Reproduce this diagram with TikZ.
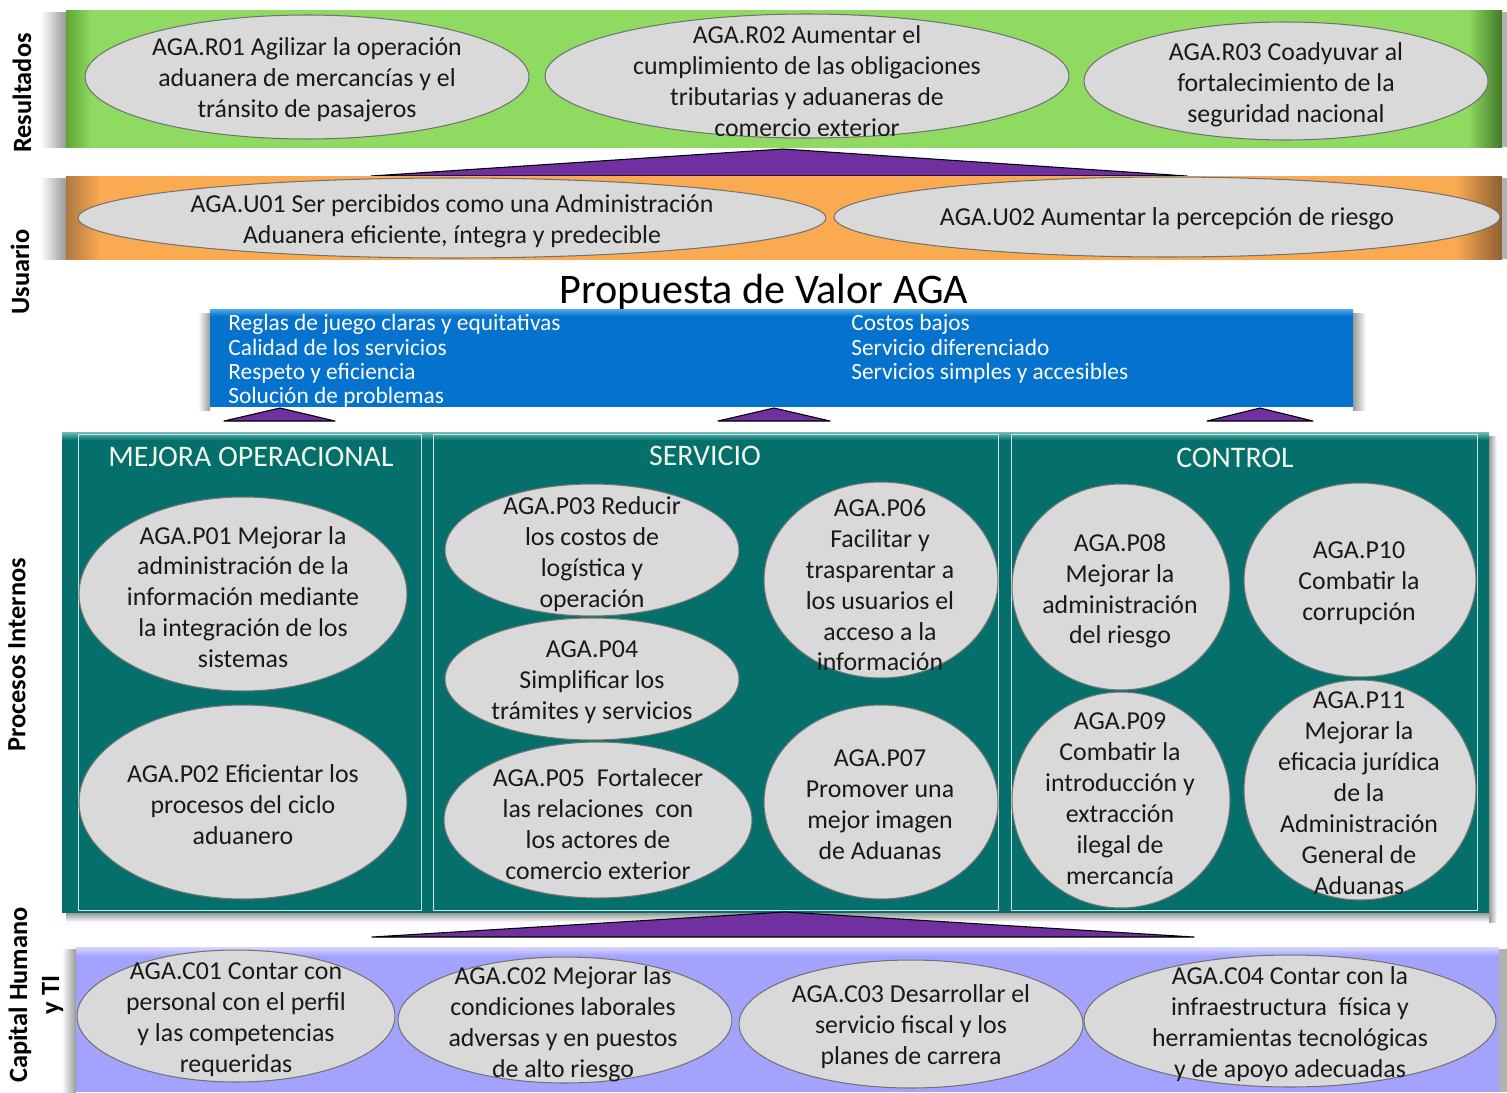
\documentclass[tikz,border=0pt]{standalone}
\usepackage{fontspec}
\setmainfont{Carlito}
\usepackage{tikz}
\usetikzlibrary{shapes.geometric}

\definecolor{resgreen}{RGB}{143,219,98}
\definecolor{resleft}{RGB}{95,165,55}
\definecolor{resright}{RGB}{65,120,40}
\definecolor{usorange}{RGB}{250,170,80}
\definecolor{usleft}{RGB}{175,120,65}
\definecolor{usright}{RGB}{140,95,50}
\definecolor{valblue}{RGB}{5,115,205}
\definecolor{valtop}{RGB}{80,170,240}
\definecolor{procteal}{RGB}{5,111,107}
\definecolor{proctop}{RGB}{110,190,185}
\definecolor{caplav}{RGB}{163,163,253}
\definecolor{captop}{RGB}{215,215,255}
\definecolor{ellgray}{RGB}{217,217,217}
\definecolor{ellline}{RGB}{115,115,115}
\definecolor{arrpurple}{RGB}{112,48,160}
\definecolor{headtxt}{RGB}{240,246,232}

\pgfdeclarehorizontalshading{resshade}{100bp}{color(0bp)=(resleft); color(25bp)=(resleft); color(25.9bp)=(resgreen); color(73.8bp)=(resgreen); color(75bp)=(resright); color(100bp)=(resright)}
\pgfdeclarehorizontalshading{usshade}{100bp}{color(0bp)=(usleft); color(25bp)=(usleft); color(26.2bp)=(usorange); color(73.4bp)=(usorange); color(75bp)=(usright); color(100bp)=(usright)}

\begin{document}
\begin{tikzpicture}[x=0.02cm,y=-0.02cm]
	
	\tikzset{goal/.style = {shape=ellipse,draw=ellline,line width=0.6pt,fill=ellgray,inner sep=0pt}}
	\tikzset{goaltext/.style = {align=center,inner sep=0pt,yshift=-1.7pt,text=black!90,font=\fontsize{14.7}{17.6}\selectfont}}
	\tikzset{sidelabel/.style = {rotate=90,align=center,font=\fontsize{15}{18.2}\selectfont\bfseries}}
	\tikzset{heading/.style = {text=headtxt,font=\fontsize{17}{20}\selectfont}}
	\tikzset{valtext/.style = {text=white,align=left,anchor=north west,inner sep=0pt,font=\fontsize{13.3}{13.9}\selectfont}}
	\tikzset{arrowtri/.style = {fill=arrpurple,draw=black,line width=0.6pt,line join=round}}
	\tikzset{panel/.style = {draw=white!80!procteal,line width=0.5pt}}
	\tikzset{shadowl/.style = {left color=white,right color=black!40}}
	\tikzset{shadowr/.style = {left color=black!40,right color=white}}
	
	\useasboundingbox (0,0) rectangle (1507,1092);
	
	% Resultados
	\shade[shadowl] (40,12) rectangle (66,147);
	\shade[shading=resshade] (66,10) rectangle (1502,147);
	\fill[black!30] (1502,12) rectangle (1507,147);
	\node[goal,minimum width=8.88cm,minimum height=2.48cm] (r1) at (307,77) {};
	\node[goal,minimum width=10.48cm,minimum height=2.48cm] (r2) at (807,76) {};
	\node[goal,minimum width=8.08cm,minimum height=2.36cm] (r3) at (1286,81) {};
	\node[goaltext] (r1t) at (307,77) {AGA.R01 Agilizar la operación\\aduanera de mercancías y el\\tránsito de pasajeros};
	\node[goaltext] (r2t) at (807,78) {AGA.R02 Aumentar el\\cumplimiento de las obligaciones\\tributarias y aduaneras de\\comercio exterior};
	\node[goaltext] (r3t) at (1286,82) {AGA.R03 Coadyuvar al\\fortalecimiento de la\\seguridad nacional};
	
	\draw[arrowtri] (371,176) -- (783,149) -- (1187,176) -- cycle;
	
	% Usuario
	\shade[shadowl] (40,178) rectangle (66,259);
	\shade[shading=usshade] (66,176) rectangle (1502,259);
	\fill[black!30] (1502,178) rectangle (1507,259);
	\node[goal,minimum width=14.96cm,minimum height=1.6cm] (u1) at (452,218) {};
	\node[goal,minimum width=13.32cm,minimum height=1.6cm] (u2) at (1167,217) {};
	\node[goaltext] (u1t) at (452,218) {AGA.U01 Ser percibidos como una Administración\\Aduanera eficiente, íntegra y predecible};
	\node[goaltext] (u2t) at (1167,216) {AGA.U02 Aumentar la percepción de riesgo};
	
	% Propuesta de valor
	\node[inner sep=0pt,font=\fontsize{24}{28}\selectfont] (prop) at (764,292) {Propuesta de Valor AGA};
	\shade[shadowl] (198,313) rectangle (210,410);
	\shade[shadowr] (1353,313) rectangle (1366,410);
	\fill[valblue] (210,309) rectangle (1353,407);
	\shade[top color=valtop,bottom color=valblue] (210,309) rectangle (1353,316);
	\node[valtext] (v1) at (228,314) {Reglas de juego claras y equitativas\\Calidad de los servicios\\Respeto y eficiencia\\Solución de problemas};
	\node[valtext] (v2) at (851,314) {Costos bajos\\Servicio diferenciado\\Servicios simples y accesibles};
	
	\draw[arrowtri] (224,421) -- (280,408) -- (335,421) -- cycle;
	\draw[arrowtri] (718,421) -- (774,408) -- (830,421) -- cycle;
	\draw[arrowtri] (1207,421) -- (1260,408) -- (1313,421) -- cycle;
	
	% Procesos internos
	\shade[top color=black!40,bottom color=white] (66,913) rectangle (1489,922);
	\shade[shadowr] (1489,436) rectangle (1497,922);
	\fill[procteal] (62,432) rectangle (1489,913);
	\shade[top color=proctop,bottom color=procteal] (62,432) rectangle (1489,440);
	\draw[panel] (78,434) rectangle (421,910);
	\draw[panel] (433,434) rectangle (998,910);
	\draw[panel] (1011,434) rectangle (1477,910);
	\node[heading] (h1) at (251,457) {MEJORA OPERACIONAL};
	\node[heading] (h2) at (705,456) {SERVICIO};
	\node[heading] (h3) at (1235,458) {CONTROL};
	
	\node[goal,minimum width=6.56cm,minimum height=3.88cm] (p1) at (243,594) {};
	\node[goal,minimum width=6.56cm,minimum height=3.88cm] (p2) at (243,802) {};
	\node[goal,minimum width=5.88cm,minimum height=2.64cm] (p3) at (592,550) {};
	\node[goal,minimum width=5.88cm,minimum height=2.44cm] (p4) at (592,679) {};
	\node[goal,minimum width=6.16cm,minimum height=3.12cm] (p5) at (598,820) {};
	\node[goal,minimum width=4.68cm,minimum height=3.92cm] (p6) at (881,580) {};
	\node[goal,minimum width=4.68cm,minimum height=3.88cm] (p7) at (881,802) {};
	\node[goal,minimum width=4.36cm,minimum height=4.12cm] (p8) at (1121,587) {};
	\node[goal,minimum width=4.36cm,minimum height=4.32cm] (p9) at (1121,800) {};
	\node[goal,minimum width=4.64cm,minimum height=3.88cm] (p10) at (1360,580) {};
	\node[goal,minimum width=4.64cm,minimum height=4.40cm] (p11) at (1360,790) {};
	
	\node[goaltext] (p1t) at (243,594) {AGA.P01 Mejorar la\\administración de la\\información mediante\\la integración de los\\sistemas};
	\node[goaltext] (p2t) at (243,802) {AGA.P02 Eficientar los\\procesos del ciclo\\aduanero};
	\node[goaltext] (p3t) at (592,551) {AGA.P03 Reducir\\los costos de\\logística y\\operación};
	\node[goaltext] (p4t) at (592,679) {AGA.P04\\Simplificar los\\trámites y servicios};
	\node[goaltext] (p5t) at (598,821) {AGA.P05\ \ Fortalecer\\las relaciones\ \ con\\los actores de\\comercio exterior};
	\node[goaltext] (p6t) at (880,582) {AGA.P06\\Facilitar y\\trasparentar a\\los usuarios el\\acceso a la\\información};
	\node[goaltext] (p7t) at (880,802) {AGA.P07\\Promover una\\mejor imagen\\de Aduanas};
	\node[goaltext] (p8t) at (1120,588) {AGA.P08\\Mejorar la\\administración\\del riesgo};
	\node[goaltext] (p9t) at (1120,796) {AGA.P09\\Combatir la\\introducción y\\extracción\\ilegal de\\mercancía};
	\node[goaltext] (p10t) at (1359,580) {AGA.P10\\Combatir la\\corrupción};
	\node[goaltext] (p11t) at (1359,790) {AGA.P11\\Mejorar la\\eficacia jurídica\\de la\\Administración\\General de\\Aduanas};
	
	\draw[arrowtri] (372,937) -- (785,912) -- (1194,937) -- cycle;
	
	% Capital humano y TI
	\shade[shadowl] (62,949) rectangle (76,1092);
	\fill[caplav] (76,947) rectangle (1499,1092);
	\shade[top color=captop,bottom color=caplav] (76,947) rectangle (1499,956);
	\fill[black!30] (1499,949) rectangle (1507,1092);
	\node[goal,minimum width=6.36cm,minimum height=2.64cm] (c1) at (236,1016) {};
	\node[goal,minimum width=6.68cm,minimum height=2.52cm] (c2) at (565,1020) {};
	\node[goal,minimum width=6.88cm,minimum height=2.56cm] (c3) at (911,1024) {};
	\node[goal,minimum width=8.24cm,minimum height=2.64cm] (c4) at (1290,1021) {};
	\node[goaltext] (c1t) at (236,1017) {AGA.C01 Contar con\\personal con el perfil\\y las competencias\\requeridas};
	\node[goaltext] (c2t) at (563,1021) {AGA.C02 Mejorar las\\condiciones laborales\\adversas y en puestos\\de alto riesgo};
	\node[goaltext] (c3t) at (911,1024) {AGA.C03 Desarrollar el\\servicio fiscal y los\\planes de carrera};
	\node[goaltext] (c4t) at (1290,1021) {AGA.C04 Contar con la\\infraestructura\ \ física y\\herramientas tecnológicas\\y de apoyo adecuadas};
	
	% side labels
	\node[sidelabel] (lres) at (22,93) {Resultados};
	\node[sidelabel] (lusu) at (20,272) {Usuario};
	\node[sidelabel] (lpro) at (17,655) {Procesos Internos};
	\node[sidelabel] (lcap) at (36,995) {Capital Humano\\y TI};
	
\end{tikzpicture}
\end{document}
